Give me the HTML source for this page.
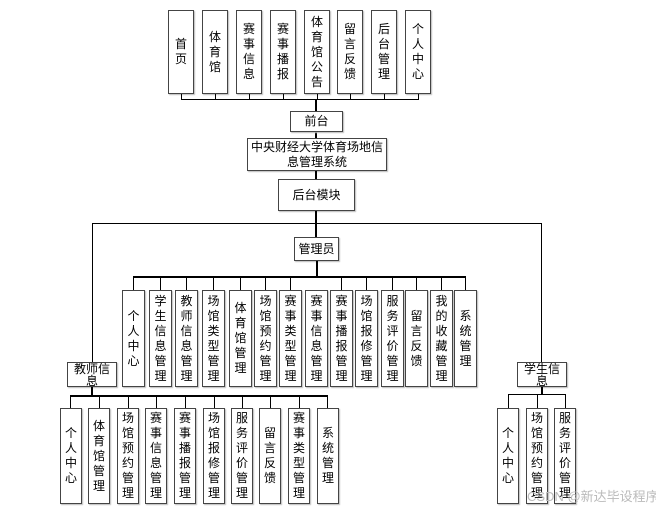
<!DOCTYPE html>
<html><head><meta charset="utf-8">
<style>
html,body{margin:0;padding:0;background:#fff;}
body{width:656px;height:511px;position:relative;overflow:hidden;font-family:"Liberation Sans","Noto Sans CJK SC","WenQuanYi Zen Hei",sans-serif;font-size:12px;color:#000;}
.b{position:absolute;border:1.5px solid #444;box-sizing:border-box;background:#fff;display:flex;align-items:center;justify-content:center;text-align:center;line-height:15px;box-shadow:1px 1px 1px #bbb;}
.v{width:1em;word-break:break-all;}
.l{position:absolute;background:#000;}
.h{height:1px}.vt{width:1px}
.t{height:2px}
</style></head><body>
<div class="b" style="left:168px;top:10px;width:26px;height:84px"><div class="v">首页</div></div>
<div class="b" style="left:202px;top:10px;width:26px;height:84px"><div class="v">体育馆</div></div>
<div class="b" style="left:236px;top:10px;width:26px;height:84px"><div class="v">赛事信息</div></div>
<div class="b" style="left:270px;top:10px;width:26px;height:84px"><div class="v">赛事播报</div></div>
<div class="b" style="left:304px;top:10px;width:26px;height:84px"><div class="v">体育馆公告</div></div>
<div class="b" style="left:337px;top:10px;width:26px;height:84px"><div class="v">留言反馈</div></div>
<div class="b" style="left:371px;top:10px;width:26px;height:84px"><div class="v">后台管理</div></div>
<div class="b" style="left:405px;top:10px;width:26px;height:84px"><div class="v">个人中心</div></div>
<div class="l h" style="left:181px;top:99px;width:238px"></div>
<div class="l vt" style="left:181px;top:94px;height:5px"></div>
<div class="l vt" style="left:215px;top:94px;height:5px"></div>
<div class="l vt" style="left:249px;top:94px;height:5px"></div>
<div class="l vt" style="left:283px;top:94px;height:5px"></div>
<div class="l vt" style="left:317px;top:94px;height:5px"></div>
<div class="l vt" style="left:350px;top:94px;height:5px"></div>
<div class="l vt" style="left:384px;top:94px;height:5px"></div>
<div class="l vt" style="left:418px;top:94px;height:5px"></div>
<div class="l vt" style="left:315px;top:99px;height:40px;width:2px"></div>
<div class="b" style="left:290px;top:111px;width:53px;height:21px">前台</div>
<div class="b" style="left:247px;top:138px;width:140px;height:33px;line-height:15px">中央财经大学体育场地信<br>息管理系统</div>
<div class="l vt" style="left:315px;top:171px;height:9px;width:2px"></div>
<div class="b" style="left:278px;top:179px;width:77px;height:32px">后台模块</div>
<div class="l vt" style="left:315px;top:211px;height:27px;width:2px"></div>
<div class="l h" style="left:92px;top:223px;width:450px"></div>
<div class="l vt" style="left:92px;top:223px;height:140px"></div>
<div class="l vt" style="left:541px;top:223px;height:140px"></div>
<div class="b" style="left:294px;top:237px;width:45px;height:24px">管理员</div>
<div class="l vt" style="left:316px;top:261px;height:16px;width:2px"></div>
<div class="l t" style="left:133px;top:276px;width:333px"></div>
<div class="b" style="left:122px;top:290px;width:23px;height:97px"><div class="v">个人中心</div></div>
<div class="b" style="left:149px;top:290px;width:23px;height:97px"><div class="v">学生信息管理</div></div>
<div class="b" style="left:175px;top:290px;width:23px;height:97px"><div class="v">教师信息管理</div></div>
<div class="b" style="left:202px;top:290px;width:23px;height:97px"><div class="v">场馆类型管理</div></div>
<div class="b" style="left:229px;top:290px;width:23px;height:97px"><div class="v">体育馆管理</div></div>
<div class="b" style="left:254px;top:290px;width:23px;height:97px"><div class="v">场馆预约管理</div></div>
<div class="b" style="left:279px;top:290px;width:23px;height:97px"><div class="v">赛事类型管理</div></div>
<div class="b" style="left:305px;top:290px;width:23px;height:97px"><div class="v">赛事信息管理</div></div>
<div class="b" style="left:330px;top:290px;width:23px;height:97px"><div class="v">赛事播报管理</div></div>
<div class="b" style="left:355px;top:290px;width:23px;height:97px"><div class="v">场馆报修管理</div></div>
<div class="b" style="left:381px;top:290px;width:23px;height:97px"><div class="v">服务评价管理</div></div>
<div class="b" style="left:405px;top:290px;width:23px;height:97px"><div class="v">留言反馈</div></div>
<div class="b" style="left:430px;top:290px;width:23px;height:97px"><div class="v">我的收藏管理</div></div>
<div class="b" style="left:454px;top:290px;width:23px;height:97px"><div class="v">系统管理</div></div>
<div class="l vt" style="left:133px;top:277px;height:13px"></div>
<div class="l vt" style="left:160px;top:277px;height:13px"></div>
<div class="l vt" style="left:186px;top:277px;height:13px"></div>
<div class="l vt" style="left:213px;top:277px;height:13px"></div>
<div class="l vt" style="left:240px;top:277px;height:13px"></div>
<div class="l vt" style="left:265px;top:277px;height:13px"></div>
<div class="l vt" style="left:290px;top:277px;height:13px"></div>
<div class="l vt" style="left:341px;top:277px;height:13px"></div>
<div class="l vt" style="left:366px;top:277px;height:13px"></div>
<div class="l vt" style="left:392px;top:277px;height:13px"></div>
<div class="l vt" style="left:416px;top:277px;height:13px"></div>
<div class="l vt" style="left:441px;top:277px;height:13px"></div>
<div class="l vt" style="left:465px;top:277px;height:13px"></div>
<div class="b" style="left:67px;top:362px;width:50px;height:25px;line-height:12px;align-items:flex-start">教师信<br>息</div>
<div class="l vt" style="left:91px;top:387px;height:10px;width:2px"></div>
<div class="l t" style="left:70px;top:395px;width:258px"></div>
<div class="b" style="left:60px;top:408px;width:22px;height:96px"><div class="v">个人中心</div></div>
<div class="b" style="left:88px;top:408px;width:22px;height:96px"><div class="v">体育馆管理</div></div>
<div class="b" style="left:117px;top:408px;width:22px;height:96px"><div class="v">场馆预约管理</div></div>
<div class="b" style="left:145px;top:408px;width:22px;height:96px"><div class="v">赛事信息管理</div></div>
<div class="b" style="left:174px;top:408px;width:22px;height:96px"><div class="v">赛事播报管理</div></div>
<div class="b" style="left:203px;top:408px;width:22px;height:96px"><div class="v">场馆报修管理</div></div>
<div class="b" style="left:231px;top:408px;width:22px;height:96px"><div class="v">服务评价管理</div></div>
<div class="b" style="left:259px;top:408px;width:22px;height:96px"><div class="v">留言反馈</div></div>
<div class="b" style="left:288px;top:408px;width:22px;height:96px"><div class="v">赛事类型管理</div></div>
<div class="b" style="left:317px;top:408px;width:22px;height:96px"><div class="v">系统管理</div></div>
<div class="l vt" style="left:70px;top:396px;height:12px"></div>
<div class="l vt" style="left:99px;top:396px;height:12px"></div>
<div class="l vt" style="left:128px;top:396px;height:12px"></div>
<div class="l vt" style="left:156px;top:396px;height:12px"></div>
<div class="l vt" style="left:185px;top:396px;height:12px"></div>
<div class="l vt" style="left:214px;top:396px;height:12px"></div>
<div class="l vt" style="left:242px;top:396px;height:12px"></div>
<div class="l vt" style="left:270px;top:396px;height:12px"></div>
<div class="l vt" style="left:299px;top:396px;height:12px"></div>
<div class="l vt" style="left:327px;top:396px;height:12px"></div>
<div class="b" style="left:517px;top:362px;width:50px;height:25px;line-height:12px;align-items:flex-start">学生信<br>息</div>
<div class="l vt" style="left:541px;top:387px;height:8px;width:2px"></div>
<div class="l h" style="left:508px;top:394px;width:58px"></div>
<div class="l vt" style="left:508px;top:394px;height:14px"></div>
<div class="l vt" style="left:537px;top:394px;height:14px"></div>
<div class="l vt" style="left:565px;top:394px;height:14px"></div>
<div class="b" style="left:497px;top:408px;width:22px;height:96px"><div class="v">个人中心</div></div>
<div class="b" style="left:526px;top:408px;width:22px;height:96px"><div class="v">场馆预约管理</div></div>
<div class="b" style="left:554px;top:408px;width:22px;height:96px"><div class="v">服务评价管理</div></div>
<div style="position:absolute;left:527px;top:486px;font-size:13px;color:#bbb;white-space:nowrap">CSDN @新达毕设程序</div>
</body></html>
